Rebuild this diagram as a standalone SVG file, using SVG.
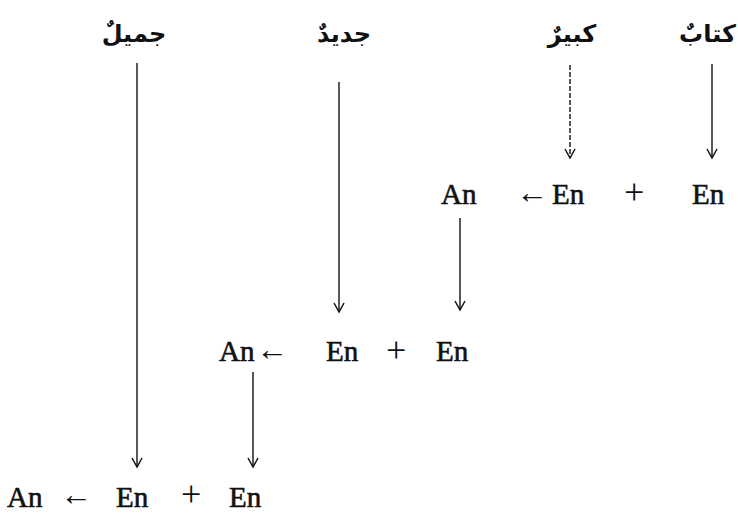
<svg xmlns="http://www.w3.org/2000/svg" width="738" height="516" viewBox="0 0 738 516">
<style>
.t{font-family:"Liberation Serif","Times New Roman",serif;font-size:29px;fill:#111;stroke:#111;stroke-width:0.6}
.ar{font-family:"DejaVu Sans",sans-serif;font-size:24px;font-weight:bold;fill:#111}
.op{font-family:"Liberation Serif","DejaVu Serif",serif;font-size:36px;fill:#111}
.ar2{font-family:"Liberation Serif","DejaVu Serif",serif;font-size:32px;fill:#111}
.ln{stroke:#111;stroke-width:1.4;fill:none;marker-end:url(#ah)}
</style>
<defs>
<marker id="ah" markerUnits="userSpaceOnUse" markerWidth="14" markerHeight="14" viewBox="-12 -7 14 14" refX="0" refY="0" orient="auto">
<path d="M-9,-5 L0,0 L-9,5" fill="none" stroke="#111" stroke-width="1.5"/>
</marker>
</defs>
<rect width="738" height="516" fill="#fff"/>
<g id="w-jamil"><text class="ar" x="134" y="42" text-anchor="middle">جميلٌ</text></g>
<g id="w-jadid"><text class="ar" x="344" y="42" text-anchor="middle">جديدٌ</text></g>
<g id="w-kabir"><text class="ar" x="572" y="42" text-anchor="middle">كبيرٌ</text></g>
<g id="w-kitab"><text class="ar" x="736" y="42" text-anchor="end">كتابٌ</text></g>
<g id="row1">
<text class="t" x="441" y="204">An</text>
<text class="ar2" x="516" y="203">←</text>
<text class="t" x="552" y="204">En</text>
<text class="op" x="624" y="204">+</text>
<text class="t" x="692" y="204">En</text>
</g>
<g id="row2">
<text class="t" x="219" y="361">An</text>
<text class="ar2" x="256" y="360">←</text>
<text class="t" x="326" y="361">En</text>
<text class="op" x="386" y="362">+</text>
<text class="t" x="436" y="361">En</text>
</g>
<g id="row3">
<text class="t" x="7" y="507">An</text>
<text class="ar2" x="60" y="505">←</text>
<text class="t" x="116" y="507">En</text>
<text class="op" x="181" y="506">+</text>
<text class="t" x="229" y="507">En</text>
</g>
<g id="connectors">
<line class="ln" x1="137" y1="63" x2="137" y2="467"/>
<line class="ln" x1="339" y1="82" x2="339" y2="312"/>
<line class="ln" x1="570" y1="65" x2="570" y2="158" stroke-dasharray="5 2"/>
<line class="ln" x1="712" y1="64" x2="712" y2="158"/>
<line class="ln" x1="460" y1="218" x2="460" y2="310"/>
<line class="ln" x1="253" y1="372" x2="253" y2="467"/>
</g>
</svg>
